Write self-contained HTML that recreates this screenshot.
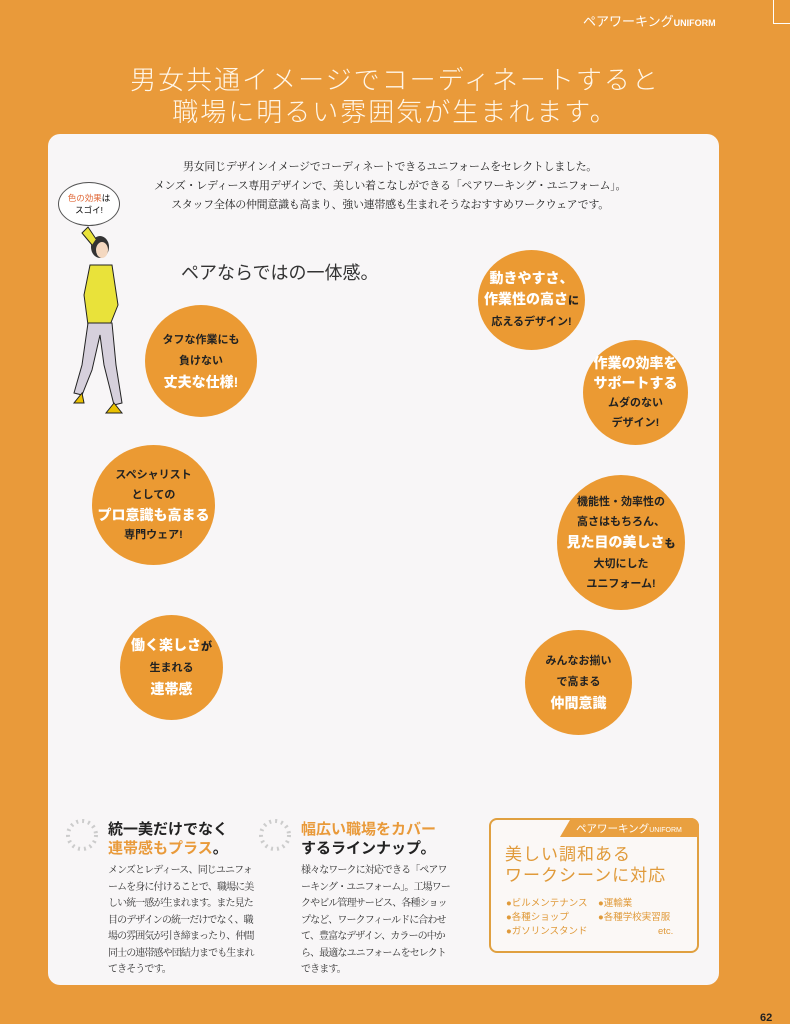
<!DOCTYPE html>
<html><head><meta charset="utf-8"><style>
*{margin:0;padding:0;box-sizing:border-box}
body{width:790px;height:1024px;background:#e99a3a;position:relative;overflow:hidden;font-family:"Liberation Sans","Noto Sans CJK JP",sans-serif}
.abs{position:absolute}
.panel{left:48px;top:134px;width:671px;height:851px;background:#f8f6f7;border-radius:12px}
.title{left:0;width:790px;text-align:center;color:#fff6e8;font-size:26px;letter-spacing:2px;line-height:32px;font-weight:300}
.intro{left:100px;width:580px;text-align:center;font-family:"Noto Serif CJK SC",serif;font-size:11px;color:#222;line-height:19px;top:157px;letter-spacing:-0.3px}
.c{position:absolute;background:#eb9a33;border-radius:50%;display:flex;flex-direction:column;justify-content:center;align-items:center;text-align:center;font-weight:bold;color:#222;font-size:11px;line-height:21px}
.c b{color:#fff;font-size:14px}
.serif{font-family:"Noto Serif CJK SC",serif;font-size:10px;line-height:16.5px;color:#333;letter-spacing:-0.9px}
</style></head><body>
<div class="abs" style="left:583px;top:11px;color:#fff;font-size:13px">ペアワーキング<span style="font-size:9px;font-weight:bold">UNIFORM</span></div>
<div class="abs" style="left:773px;top:0;width:17px;height:24px;border-left:1px solid #fff;border-bottom:1px solid #fff"></div>
<div class="abs title" style="top:64px">男女共通イメージでコーディネートすると</div>
<div class="abs title" style="top:96px">職場に明るい雰囲気が生まれます。</div>
<div class="abs panel"></div>
<div class="abs intro">男女同じデザインイメージでコーディネートできるユニフォームをセレクトしました。<br>メンズ・レディース専用デザインで、美しい着こなしができる「ペアワーキング・ユニフォーム」。<br>スタッフ全体の仲間意識も高まり、強い連帯感も生まれそうなおすすめワークウェアです。</div>
<div class="abs" style="left:58px;top:182px;width:62px;height:44px;border:1px solid #555;border-radius:50%;background:#fff;text-align:center;font-size:8.5px;line-height:12px;padding-top:9px"><span style="color:#e06a3a">色の効果</span>は<br>スゴイ!</div>
<svg class="abs" style="left:60px;top:225px" width="80" height="195" viewBox="0 0 80 195">
<ellipse cx="40" cy="22" rx="9" ry="11" fill="#333"/>
<ellipse cx="42" cy="25" rx="6" ry="8" fill="#f4d8c0"/>
<path d="M32 20 L22 8 L28 2 L36 14" fill="#e9e23a" stroke="#222"/>
<path d="M30 40 L52 40 L58 80 L50 100 L28 100 L24 70 Z" fill="#e9e23a" stroke="#222"/>
<path d="M28 98 L52 98 L56 140 L62 178 L54 180 L44 140 L40 110 L32 145 L22 170 L14 168 L22 140 Z" fill="#d6d0dc" stroke="#222"/>
<path d="M22 168 L14 178 L24 178 Z M54 178 L46 188 L62 188 Z" fill="#e9c000" stroke="#222"/>
</svg>
<div class="abs" style="left:181px;top:259px;font-size:18px;color:#333">ペアならではの一体感。</div>
<div class="c" style="left:145px;top:305px;width:112px;height:112px">タフな作業にも<br>負けない<b>丈夫な仕様!</b></div>
<div class="c" style="left:92px;top:445px;width:123px;height:120px;line-height:20px">スペシャリスト<br>としての<b>プロ意識も高まる</b>専門ウェア!</div>
<div class="c" style="left:120px;top:615px;width:103px;height:105px"><b>働く楽しさ<span style="color:#222;font-size:11px">が</span></b>生まれる<b>連帯感</b></div>
<div class="c" style="left:478px;top:250px;width:107px;height:100px"><b>動きやすさ、</b><b>作業性の高さ<span style="color:#222;font-size:11px">に</span></b>応えるデザイン!</div>
<div class="c" style="left:583px;top:340px;width:105px;height:105px;line-height:20px"><b>作業の効率を</b><b>サポートする</b>ムダのない<br>デザイン!</div>
<div class="c" style="left:557px;top:475px;width:128px;height:135px;line-height:20px">機能性・効率性の<br>高さはもちろん、<b>見た目の美しさ<span style="color:#222;font-size:11px">も</span></b>大切にした<br>ユニフォーム!</div>
<div class="c" style="left:525px;top:630px;width:107px;height:105px">みんなお揃い<br>で高まる<b>仲間意識</b></div>
<svg class="abs" style="left:64px;top:817px" width="36" height="36"><circle cx="18" cy="18" r="14" fill="none" stroke="#ccc" stroke-width="4" stroke-dasharray="2 4"/></svg>
<div class="abs" style="left:108px;top:820px;font-size:15px;font-weight:bold;line-height:19px;color:#222">統一美だけでなく<br><span style="color:#e99a3a">連帯感もプラス</span>。</div>
<div class="abs serif" style="left:108px;top:861px;width:152px">メンズとレディース、同じユニフォームを身に付けることで、職場に美しい統一感が生まれます。また見た目のデザインの統一だけでなく、職場の雰囲気が引き締まったり、仲間同士の連帯感や団結力までも生まれてきそうです。</div>
<svg class="abs" style="left:257px;top:817px" width="36" height="36"><circle cx="18" cy="18" r="14" fill="none" stroke="#ccc" stroke-width="4" stroke-dasharray="2 4"/></svg>
<div class="abs" style="left:301px;top:820px;font-size:15px;font-weight:bold;line-height:19px;color:#222"><span style="color:#e99a3a">幅広い職場をカバー</span><br>するラインナップ。</div>
<div class="abs serif" style="left:301px;top:861px;width:152px">様々なワークに対応できる「ペアワーキング・ユニフォーム」。工場ワークやビル管理サービス、各種ショップなど、ワークフィールドに合わせて、豊富なデザイン、カラーの中から、最適なユニフォームをセレクトできます。</div>
<div class="abs" style="left:489px;top:818px;width:210px;height:135px;border:2px solid #e0a040;border-radius:8px;background:#fbf8f6"></div>
<div class="abs" style="left:560px;top:818px;width:139px;height:19px;background:#e9a040;clip-path:polygon(8% 0,100% 0,100% 100%,0 100%);border-radius:0 8px 0 0;color:#fff;font-size:10.5px;padding:3px 0 0 16px">ペアワーキング<span style="font-size:7px">UNIFORM</span></div>
<div class="abs" style="left:505px;top:844px;color:#e09a3a;font-size:17px;line-height:21px;letter-spacing:1px">美しい調和ある<br>ワークシーンに対応</div>
<div class="abs" style="left:506px;top:897px;color:#e09a3a;font-size:9.5px;line-height:14px">●ビルメンテナンス<br>●各種ショップ<br>●ガソリンスタンド</div>
<div class="abs" style="left:598px;top:897px;color:#e09a3a;font-size:9.5px;line-height:14px">●運輸業<br>●各種学校実習服<br><span style="padding-left:60px">etc.</span></div>
<div class="abs" style="left:760px;top:1012px;font-size:11px;font-weight:bold;color:#222">62</div>
</body></html>
